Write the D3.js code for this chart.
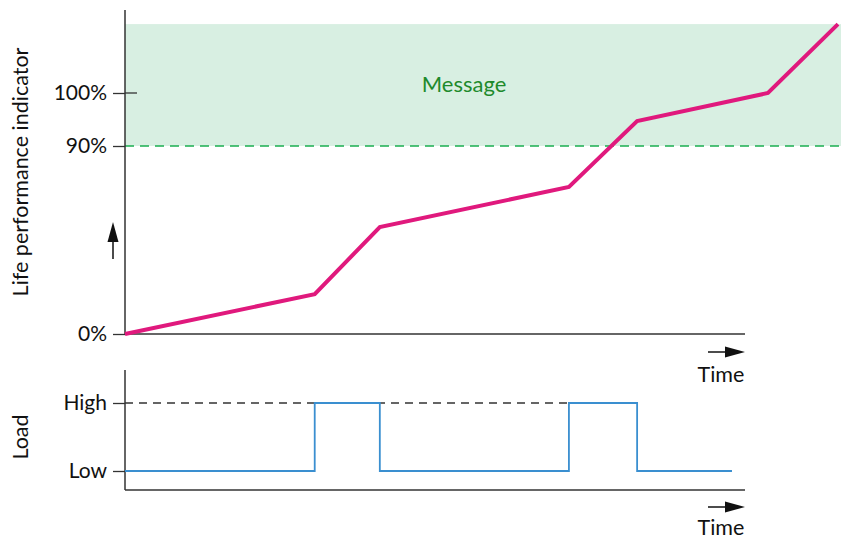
<!DOCTYPE html>
<html>
<head>
<meta charset="utf-8">
<script src="https://cdn.jsdelivr.net/npm/d3@7"></script>
<style>
  html, body { margin: 0; padding: 0; background: #fff; }
  svg { display: block; font-family: Lato, "Open Sans", sans-serif; }
</style>
</head>
<body>
<svg id="chart" width="841" height="540"></svg>
<script>
// Life performance indicator over time (schematic, non-linear percent axis)
const lifeTime   = [0, 3.06, 4.11, 7.16, 8.26, 10.37, 11.5];
const lifeValue  = [0, 19.1, 51.2, 70.4, 94.7, 100, 113];
const lifeTicks  = [0, 90, 100];
const warnLevel  = 90;
const bandTop    = 113;

// Load profile as step changes
const loadTime   = [0, 3.06, 4.11, 7.16, 8.26, 9.79];
const loadLevel  = ["Low", "High", "Low", "High", "Low", "Low"];
const loadLevels = ["Low", "High"];

const svg = d3.select("#chart");
const W = 841;

const x = d3.scaleLinear().domain([0, 10]).range([125, 745]);
const yLife = d3.scaleLinear().domain([0, 90, 100]).range([334, 146, 93]);
const yLoad = d3.scalePoint().domain(loadLevels).range([471, 403]).padding(0);

const axisColor = "#333";
const labelSize = 21.5;
const tickSize = 21;

// ---------- upper panel ----------
// message zone
svg.append("rect")
  .attr("x", x(0)).attr("y", yLife(bandTop))
  .attr("width", W - x(0)).attr("height", yLife(warnLevel) - yLife(bandTop))
  .attr("fill", "#d8efe2");

svg.append("line")
  .attr("x1", x(0)).attr("x2", W)
  .attr("y1", yLife(warnLevel)).attr("y2", yLife(warnLevel))
  .attr("stroke", "#1aae50").attr("stroke-width", 1.5)
  .attr("stroke-dasharray", "9,6");

svg.append("text")
  .attr("x", 464).attr("y", 86)
  .attr("dominant-baseline", "middle").attr("text-anchor", "middle")
  .attr("fill", "#1e8a2c").attr("font-size", 22)
  .text("Message");

// axes
const leftAxis = d3.axisLeft(yLife)
  .tickValues(lifeTicks).tickFormat(d => d + "%")
  .tickSize(12).tickPadding(6);
const gL = svg.append("g").attr("transform", `translate(${x(0)},0)`).call(leftAxis);
gL.select(".domain").remove();
gL.selectAll(".tick line").attr("stroke", axisColor).attr("stroke-width", 1.3);
gL.selectAll(".tick text").attr("fill", "#111").attr("font-size", tickSize)
  .attr("font-family", "Lato, sans-serif");
// 100% tick crosses into the plot
svg.append("line")
  .attr("x1", x(0)).attr("x2", x(0) + 12)
  .attr("y1", yLife(100)).attr("y2", yLife(100))
  .attr("stroke", axisColor).attr("stroke-width", 1.3);

svg.append("line")
  .attr("x1", x(0)).attr("x2", x(0)).attr("y1", 10).attr("y2", yLife(0))
  .attr("stroke", axisColor).attr("stroke-width", 1.5);
svg.append("line")
  .attr("x1", x(0)).attr("x2", x(10)).attr("y1", yLife(0)).attr("y2", yLife(0))
  .attr("stroke", axisColor).attr("stroke-width", 1.5);

// life curve
const lifeLine = d3.line().x(d => x(d[0])).y(d => yLife(d[1]));
svg.append("path")
  .datum(d3.zip(lifeTime, lifeValue))
  .attr("d", lifeLine)
  .attr("fill", "none").attr("stroke", "#e0197d")
  .attr("stroke-width", 4).attr("stroke-linejoin", "miter");

// axis title and upward arrow
svg.append("text")
  .attr("transform", "translate(28,172) rotate(-90)")
  .attr("text-anchor", "middle").attr("font-size", labelSize).attr("fill", "#111")
  .text("Life performance indicator");

function arrowHead(px, py, dir) {
  // dir: "right" or "up", (px,py) is the tip
  const pts = dir === "right"
    ? [[px, py], [px - 20, py - 5.5], [px - 20, py + 5.5]]
    : [[px, py], [px - 5.5, py + 20], [px + 5.5, py + 20]];
  svg.append("path").attr("d", "M" + pts.join("L") + "Z").attr("fill", "#111");
}
svg.append("line").attr("x1", 113).attr("x2", 113).attr("y1", 259).attr("y2", 236)
  .attr("stroke", "#111").attr("stroke-width", 1.5);
arrowHead(113, 222, "up");

function timeLabel(yArrow, yText) {
  svg.append("line").attr("x1", 708).attr("x2", 728).attr("y1", yArrow).attr("y2", yArrow)
    .attr("stroke", "#111").attr("stroke-width", 1.5);
  arrowHead(745, yArrow, "right");
  svg.append("text").attr("x", 721).attr("y", yText)
    .attr("text-anchor", "middle").attr("font-size", labelSize).attr("fill", "#111")
    .text("Time");
}
timeLabel(352, 382);

// ---------- lower panel ----------
const loadAxis = d3.axisLeft(yLoad).tickSize(12).tickPadding(6);
const gB = svg.append("g").attr("transform", `translate(${x(0)},0)`).call(loadAxis);
gB.select(".domain").remove();
gB.selectAll(".tick line").attr("stroke", axisColor).attr("stroke-width", 1.3);
gB.selectAll(".tick text").attr("fill", "#111").attr("font-size", tickSize)
  .attr("font-family", "Lato, sans-serif");

svg.append("line")
  .attr("x1", x(0)).attr("x2", x(7.16))
  .attr("y1", yLoad("High")).attr("y2", yLoad("High"))
  .attr("stroke", "#333").attr("stroke-width", 1.3).attr("stroke-dasharray", "8,6");

svg.append("line")
  .attr("x1", x(0)).attr("x2", x(0)).attr("y1", 370).attr("y2", 490)
  .attr("stroke", axisColor).attr("stroke-width", 1.5);
svg.append("line")
  .attr("x1", x(0)).attr("x2", x(10)).attr("y1", 490).attr("y2", 490)
  .attr("stroke", axisColor).attr("stroke-width", 1.5);

const loadLine = d3.line().x(d => x(d[0])).y(d => yLoad(d[1])).curve(d3.curveStepAfter);
svg.append("path")
  .datum(d3.zip(loadTime, loadLevel))
  .attr("d", loadLine)
  .attr("fill", "none").attr("stroke", "#3a8fd0").attr("stroke-width", 1.8);

svg.append("text")
  .attr("transform", "translate(28,437) rotate(-90)")
  .attr("text-anchor", "middle").attr("font-size", labelSize).attr("fill", "#111")
  .text("Load");

timeLabel(507, 535);
</script>
</body>
</html>
